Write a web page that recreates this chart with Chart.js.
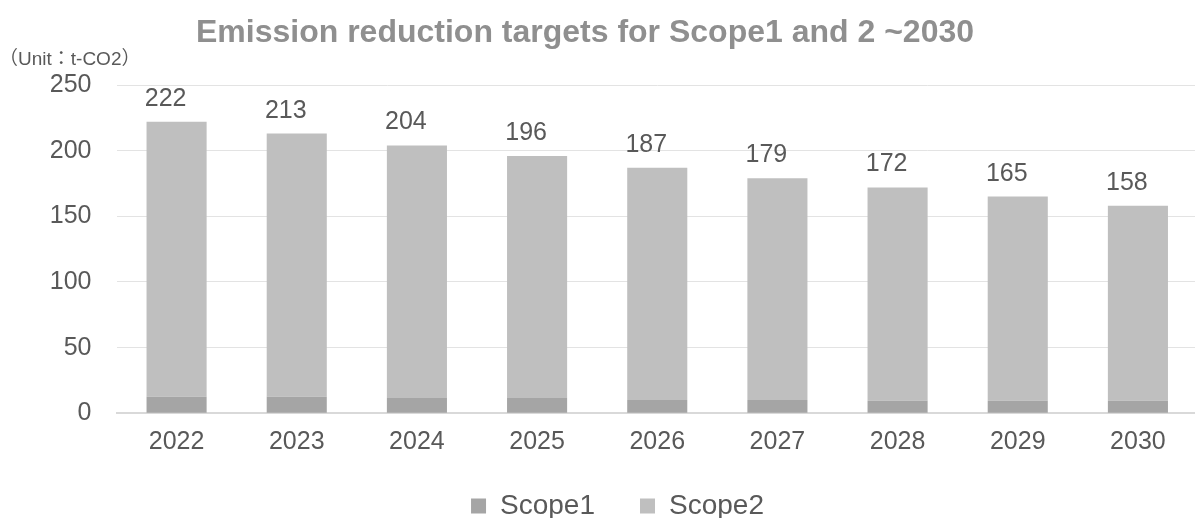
<!DOCTYPE html>
<html>
<head>
<meta charset="utf-8">
<script src="https://cdn.jsdelivr.net/npm/chart.js@4/dist/chart.umd.min.js"></script>
<style>
  html, body { margin: 0; padding: 0; background: #ffffff; overflow: hidden; }
  #wrap { position: relative; width: 1199px; height: 530px; }
</style>
</head>
<body>
<div id="wrap"><canvas id="chart"></canvas></div>
<script>
// Fiscal years on the x axis
const years = ['2022', '2023', '2024', '2025', '2026', '2027', '2028', '2029', '2030'];
// Total Scope1 + Scope2 emissions per year (t-CO2), shown above each stack
const totals = [222, 213, 204, 196, 187, 179, 172, 165, 158];
// Scope1 emissions per year (t-CO2)
const scope1 = [12.6, 12.6, 11.7, 11.7, 10.1, 10.1, 9.6, 9.6, 9.6];
// Scope2 is the remainder of each year's total
const scope2 = totals.map((t, i) => +(t - scope1[i]).toFixed(1));
// Value axis ticks
const yTicks = [0, 50, 100, 150, 200, 250];

const TEXT = '#595959';
const FONT = '"Liberation Sans", Arial, "Noto Sans CJK JP", sans-serif';

// Title and unit caption
const headerPlugin = {
  id: 'header',
  afterDraw(chart) {
    const ctx = chart.ctx;
    ctx.save();
    ctx.fillStyle = '#8f8f8f';
    ctx.font = 'bold 32px ' + FONT;
    ctx.textAlign = 'center';
    ctx.textBaseline = 'alphabetic';
    ctx.fillText('Emission reduction targets for Scope1 and 2 ~2030', 585, 42);
    ctx.fillStyle = TEXT;
    ctx.font = '19px ' + FONT;
    ctx.textAlign = 'left';
    ctx.fillText('（Unit：t-CO2）', -1, 65);
    ctx.restore();
  }
};

// Let the year labels extend below the thin category-axis box without being clipped
const axisLabelRoom = {
  id: 'axisLabelRoom',
  afterLayout(chart) {
    const x = chart.scales.x;
    x.bottom = x.top + 50;
  }
};

// Total value written above each stacked bar
const totalLabels = {
  id: 'totalLabels',
  afterDatasetsDraw(chart) {
    const ctx = chart.ctx;
    const meta = chart.getDatasetMeta(1);
    ctx.save();
    ctx.fillStyle = TEXT;
    ctx.font = '25px ' + FONT;
    ctx.textAlign = 'center';
    ctx.textBaseline = 'alphabetic';
    meta.data.forEach((bar, i) => {
      ctx.fillText(String(totals[i]), bar.x - 11, bar.y - 16);
    });
    ctx.restore();
  }
};

new Chart(document.getElementById('chart'), {
  type: 'bar',
  data: {
    labels: years,
    datasets: [
      { label: 'Scope1', data: scope1, backgroundColor: '#a5a5a5', borderWidth: 0 },
      { label: 'Scope2', data: scope2, backgroundColor: '#bfbfbf', borderWidth: 0 }
    ]
  },
  options: {
    responsive: true,
    maintainAspectRatio: false,
    animation: false,
    devicePixelRatio: 1,
    datasets: { bar: { barPercentage: 0.5, categoryPercentage: 1.0 } },
    layout: { padding: { top: 85, left: 37, right: 1, bottom: 0 } },
    scales: {
      x: {
        stacked: true,
        grid: { display: false, drawTicks: false },
        border: { display: true, color: '#d9d9d9', width: 2 },
        ticks: { color: TEXT, font: { family: FONT, size: 25 }, padding: 14 },
        afterFit(scale) { scale.height = 33.7; }
      },
      y: {
        stacked: true,
        min: 0,
        max: 250,
        afterBuildTicks(scale) { scale.ticks = yTicks.map(v => ({ value: v })); },
        grid: { color: '#e3e3e3', lineWidth: 1, drawTicks: false },
        border: { display: false },
        ticks: { color: TEXT, font: { family: FONT, size: 25 }, padding: 25 },
        afterFit(scale) { scale.width = 79.5; }
      }
    },
    plugins: {
      title: { display: false },
      tooltip: { enabled: false },
      legend: {
        position: 'bottom',
        labels: {
          color: TEXT,
          font: { family: FONT, size: 28 },
          boxWidth: 15,
          boxHeight: 15,
          padding: 45
        }
      }
    }
  },
  plugins: [headerPlugin, axisLabelRoom, totalLabels]
});
</script>
</body>
</html>
